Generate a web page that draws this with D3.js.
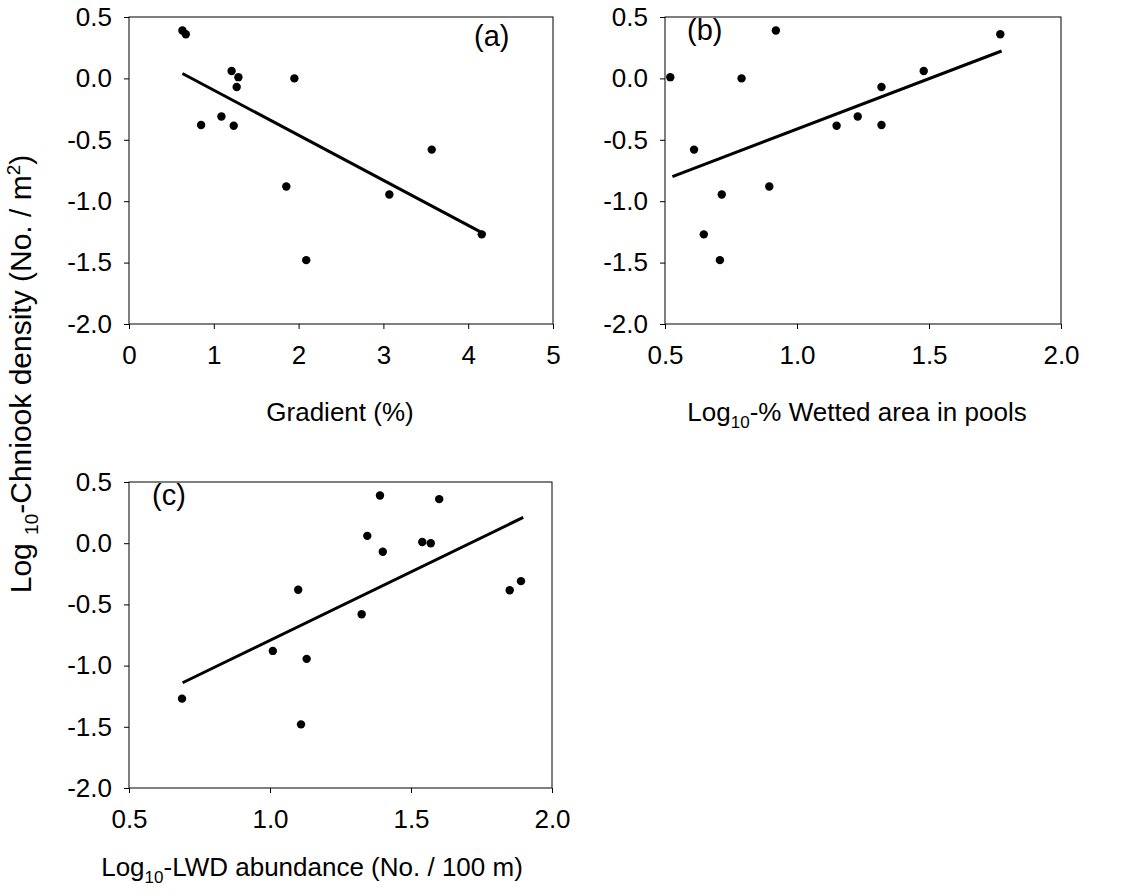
<!doctype html>
<html lang="en">
<head>
<meta charset="utf-8">
<script src="https://d3js.org/d3.v7.min.js"></script>
<style>
  body { margin: 0; background: #fff; }
  svg text { font-family: "Liberation Sans", Arial, sans-serif; fill: #000; }
  .frame { fill: none; stroke: #000; stroke-width: 1px; }
  .axis path, .axis line { stroke: #000; }
</style>
</head>
<body>
<svg id="chart" width="1127" height="896"></svg>
<script>
// log10 chinook density, one value per site (shared by all panels)
const density = [0.39, 0.36, 0.06, 0.01, 0.00, -0.07, -0.31, -0.38, -0.385, -0.58, -0.88, -0.945, -1.27, -1.48];
// predictors, same site order
const gradient = [0.63, 0.67, 1.21, 1.29, 1.95, 1.27, 1.09, 0.85, 1.235, 3.57, 1.855, 3.07, 4.16, 2.09];
const poolArea = [0.92, 1.77, 1.48, 0.52, 0.79, 1.32, 1.23, 1.32, 1.15, 0.61, 0.895, 0.715, 0.647, 0.708];
const lwd = [1.39, 1.60, 1.345, 1.54, 1.57, 1.40, 1.89, 1.10, 1.85, 1.325, 1.01, 1.13, 0.688, 1.11];

// fitted lines, [x, y] endpoints as drawn
const fitA = [[0.63, 0.04], [4.2, -1.27]];
const fitB = [[0.528, -0.80], [1.775, 0.223]];
const fitC = [[0.69, -1.14], [1.898, 0.211]];

const yTicks = [0.5, 0.0, -0.5, -1.0, -1.5, -2.0];
const xTicksA = [0, 1, 2, 3, 4, 5];
const xTicksBC = [0.5, 1.0, 1.5, 2.0];

const svg = d3.select("#chart");
const fs = 26;

const panels = [
  { x: gradient, fit: fitA, xDomain: [0, 5], xTicks: xTicksA, fmt: d3.format("d"),
    left: 129, right: 553, top: 17, bottom: 324, tag: "(a)", tagX: 474, tagY: 46 },
  { x: poolArea, fit: fitB, xDomain: [0.5, 2.0], xTicks: xTicksBC, fmt: d3.format(".1f"),
    left: 665, right: 1061, top: 17, bottom: 324, tag: "(b)", tagX: 687, tagY: 40 },
  { x: lwd, fit: fitC, xDomain: [0.5, 2.0], xTicks: xTicksBC, fmt: d3.format(".1f"),
    left: 129, right: 552, top: 482, bottom: 788, tag: "(c)", tagX: 152, tagY: 505 }
];

panels.forEach(p => {
  const x = d3.scaleLinear().domain(p.xDomain).range([p.left, p.right]);
  const y = d3.scaleLinear().domain([-2, 0.5]).range([p.bottom, p.top]);

  // box
  svg.append("rect").attr("class", "frame")
    .attr("x", p.left).attr("y", p.top)
    .attr("width", p.right - p.left).attr("height", p.bottom - p.top);

  const yAx = svg.append("g").attr("class", "axis")
    .attr("transform", `translate(${p.left},0)`)
    .call(d3.axisLeft(y).tickValues(yTicks).tickSize(5).tickSizeOuter(0).tickPadding(12));
  yAx.selectAll("text").style("font-size", fs + "px").text(d => d3.format(".1f")(d).replace("−", "-"));
  yAx.select(".domain").remove();

  const xAx = svg.append("g").attr("class", "axis")
    .attr("transform", `translate(0,${p.bottom})`)
    .call(d3.axisBottom(x).tickValues(p.xTicks).tickFormat(p.fmt).tickSize(5).tickSizeOuter(0).tickPadding(17));
  xAx.selectAll("text").style("font-size", fs + "px");
  xAx.select(".domain").remove();

  svg.append("line")
    .attr("x1", x(p.fit[0][0])).attr("y1", y(p.fit[0][1]))
    .attr("x2", x(p.fit[1][0])).attr("y2", y(p.fit[1][1]))
    .attr("stroke", "#000").attr("stroke-width", 3);

  svg.append("g").selectAll("circle")
    .data(density.map((d, i) => [p.x[i], d]))
    .join("circle")
    .attr("cx", d => x(d[0])).attr("cy", d => y(d[1]))
    .attr("r", 4.2).attr("fill", "#000");

  svg.append("text").attr("x", p.tagX).attr("y", p.tagY)
    .style("font-size", "29px").text(p.tag);
});

// axis titles with sub/superscripts
function subLabel(sel, parts, small) {
  parts.forEach(pt => {
    const t = sel.append("tspan").text(pt.t);
    if (pt.sub) t.style("font-size", small + "px").attr("dy", 7);
    if (pt.sup) t.style("font-size", small + "px").attr("dy", -11);
    if (pt.back) t.attr("dy", pt.back);
  });
}

svg.append("text").attr("x", 340).attr("y", 421).attr("text-anchor", "middle")
  .style("font-size", fs + "px").text("Gradient (%)");

subLabel(svg.append("text").attr("x", 857).attr("y", 421).attr("text-anchor", "middle")
  .style("font-size", fs + "px"),
  [{ t: "Log" }, { t: "10", sub: true }, { t: "-% Wetted area in pools", back: -7 }], 17);

subLabel(svg.append("text").attr("x", 312).attr("y", 876).attr("text-anchor", "middle")
  .style("font-size", fs + "px"),
  [{ t: "Log" }, { t: "10", sub: true }, { t: "-LWD abundance (No. / 100 m)", back: -7 }], 17);

subLabel(svg.append("text").attr("transform", "translate(31,374) rotate(-90)").attr("text-anchor", "middle")
  .style("font-size", "30px"),
  [{ t: "Log " }, { t: "10", sub: true }, { t: "-Chniook density (No. / m", back: -7 }, { t: "2", sup: true }, { t: ")", back: 11 }], 19);
</script>
</body>
</html>
